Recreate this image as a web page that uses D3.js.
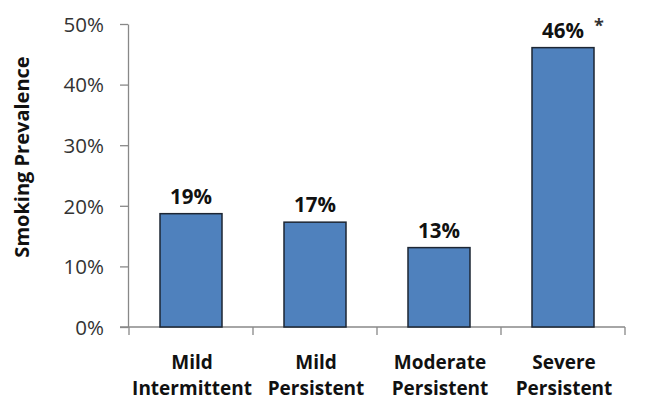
<!DOCTYPE html>
<html><head><meta charset="utf-8">
<script src="https://cdn.jsdelivr.net/npm/d3@7"></script>
<style>body{margin:0;background:#fff}svg{display:block}</style>
</head><body>
<script>
const categories = [["Mild","Intermittent"],["Mild","Persistent"],["Moderate","Persistent"],["Severe","Persistent"]];
const values = [18.7, 17.3, 13.1, 46.1];
const valueLabels = ["19%","17%","13%","46%"];
const markers = ["","","","*"];
const yTicks = [0,10,20,30,40,50];
const yTitle = "Smoking Prevalence";
const title = "Prevalence by Severity";

const W=649,H=400;
const svg=d3.select("body").append("svg").attr("width",W).attr("height",H);
const font="'Open Sans', sans-serif";
const x=d3.scaleBand().domain(d3.range(categories.length)).range([129,625]).padding(0.5).paddingOuter(0.25);
const y=d3.scaleLinear().domain([0,50]).range([327,24]);

// title (almost entirely cut off at the top in the reference)
svg.append("text").attr("x",471).attr("y",-6).attr("text-anchor","end")
 .attr("font-family",font).attr("font-weight","bold").attr("font-size",23).attr("fill","#000").text(title);

// y axis
const ya=svg.append("g").attr("transform","translate(128,0)")
 .call(d3.axisLeft(y).tickValues(yTicks).tickFormat(d=>d+"%").tickSize(8).tickSizeOuter(0));
ya.select(".domain").attr("stroke","#888").attr("stroke-width",1.3);
ya.selectAll(".tick line").attr("stroke","#888").attr("stroke-width",1.3);
ya.selectAll(".tick text").attr("font-family",font).attr("font-size",20.5).attr("fill","#333").attr("x",-24).attr("dy","0.36em");

// x axis
const xa=svg.append("g").attr("transform","translate(0,327)");
xa.append("line").attr("x1",120).attr("x2",625).attr("stroke","#888").attr("stroke-width",1.3);
const step=x.step();
d3.range(categories.length+1).forEach(i=>{
  const xx=129+i*step;
  xa.append("line").attr("x1",xx).attr("x2",xx).attr("y1",0).attr("y2",8).attr("stroke","#888").attr("stroke-width",1.3);
});

// bars
svg.selectAll("rect.bar").data(values).join("rect").attr("class","bar")
 .attr("x",(d,i)=>x(i)).attr("width",x.bandwidth())
 .attr("y",d=>y(d)).attr("height",d=>y(0)-y(d))
 .attr("fill","#4F81BD").attr("stroke","#1d2633").attr("stroke-width",1.5);

// value labels
svg.selectAll("text.vl").data(values).join("text").attr("class","vl")
 .attr("x",(d,i)=>x(i)+x.bandwidth()/2).attr("y",d=>y(d)-10)
 .attr("text-anchor","middle").attr("font-family",font).attr("font-weight","bold").attr("font-size",20.5)
 .attr("fill","#111").text((d,i)=>valueLabels[i]);
svg.selectAll("text.mk").data(values).join("text").attr("class","mk")
 .attr("x",(d,i)=>x(i)+x.bandwidth()/2+36).attr("y",d=>y(d)-16)
 .attr("text-anchor","middle").attr("font-family",font).attr("font-weight","bold").attr("font-size",18)
 .attr("fill","#333").text((d,i)=>markers[i]);

// category labels
categories.forEach((c,i)=>{
  const t=svg.append("text").attr("text-anchor","middle").attr("font-family",font).attr("font-weight","bold")
   .attr("font-size",19).attr("fill","#111");
  c.forEach((line,j)=>t.append("tspan").attr("x",x(i)+x.bandwidth()/2+1).attr("y",369+j*26).text(line));
});

// y title
svg.append("text").attr("transform","translate(29,157) rotate(-90)").attr("text-anchor","middle")
 .attr("font-family",font).attr("font-weight","bold").attr("font-size",20).attr("fill","#111").text(yTitle);
</script>
</body></html>
